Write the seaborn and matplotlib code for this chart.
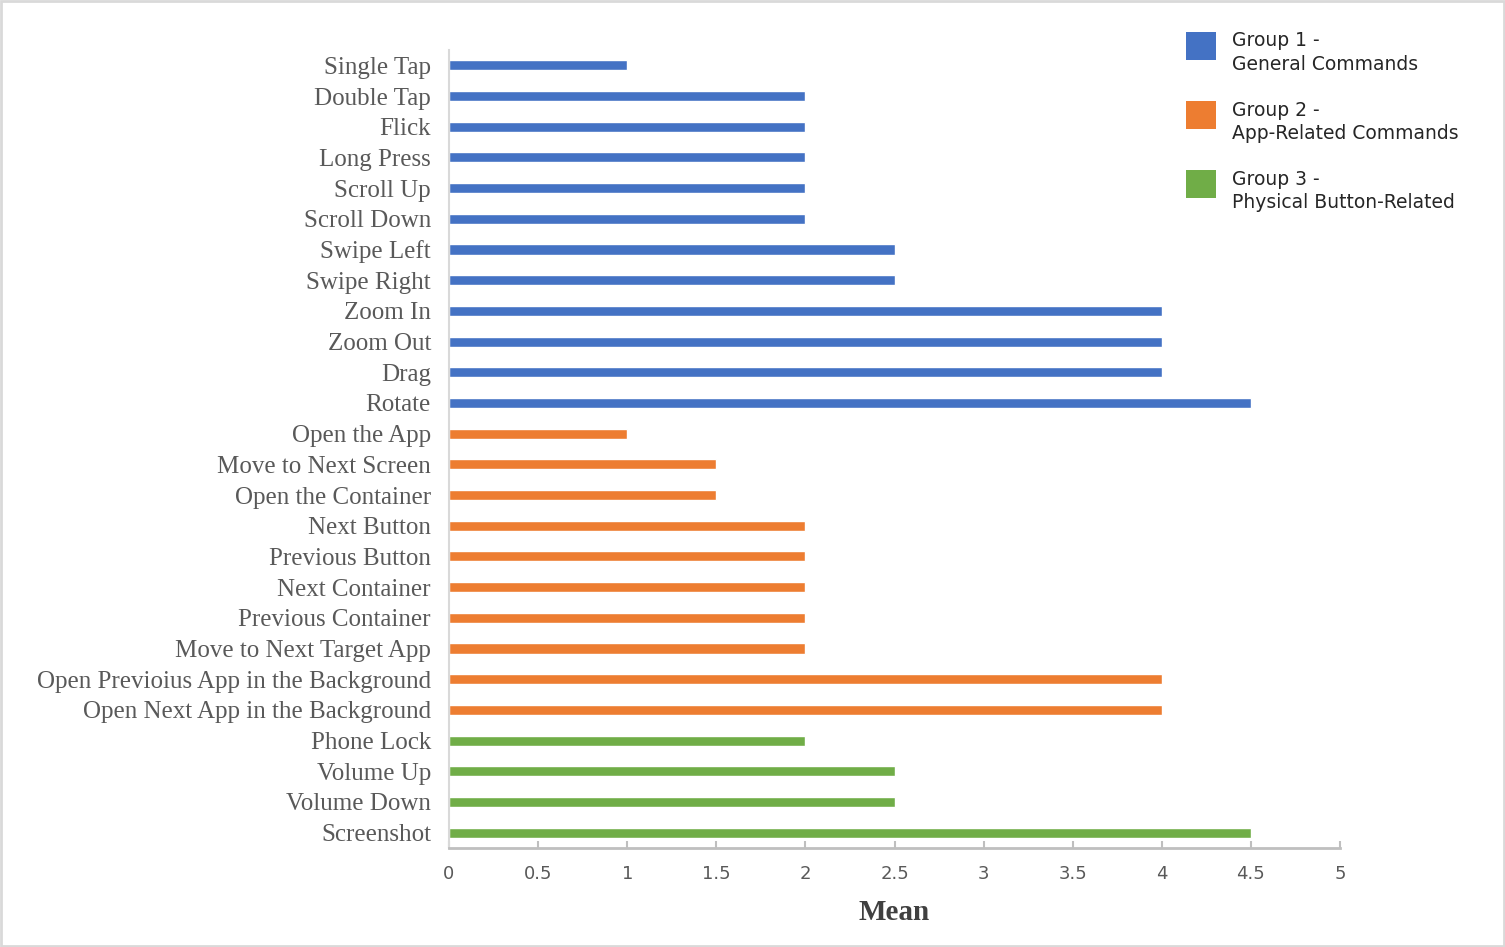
import matplotlib
matplotlib.use("Agg")
import matplotlib.pyplot as plt
import seaborn as sns
import pandas as pd
from matplotlib.patches import Patch, Rectangle
from matplotlib.legend_handler import HandlerPatch

categories = [
    "Single Tap", "Double Tap", "Flick", "Long Press", "Scroll Up", "Scroll Down",
    "Swipe Left", "Swipe Right", "Zoom In", "Zoom Out", "Drag", "Rotate",
    "Open the App", "Move to Next Screen", "Open the Container", "Next Button",
    "Previous Button", "Next Container", "Previous Container", "Move to Next Target App",
    "Open Previoius App in the Background", "Open Next App in the Background",
    "Phone Lock", "Volume Up", "Volume Down", "Screenshot",
]
means = [1, 2, 2, 2, 2, 2, 2.5, 2.5, 4, 4, 4, 4.5,
         1, 1.5, 1.5, 2, 2, 2, 2, 2, 4, 4,
         2, 2.5, 2.5, 4.5]
groups = (["Group 1 -\nGeneral Commands"] * 12
          + ["Group 2 -\nApp-Related Commands"] * 10
          + ["Group 3 -\nPhysical Button-Related"] * 4)
group_names = ["Group 1 -\nGeneral Commands", "Group 2 -\nApp-Related Commands",
               "Group 3 -\nPhysical Button-Related"]
colors = ["#4472C4", "#ED7D31", "#70AD47"]
x_ticks = [0, 0.5, 1, 1.5, 2, 2.5, 3, 3.5, 4, 4.5, 5]
x_labels = ["0", "0.5", "1", "1.5", "2", "2.5", "3", "3.5", "4", "4.5", "5"]

df = pd.DataFrame({"Command": categories, "Mean": means, "Group": groups})

sns.set_style("white")
fig = plt.figure(figsize=(15.05, 9.47), dpi=100)
ax = fig.add_axes([449 / 1505, 1 - 848 / 947, (1340 - 449) / 1505, (848 - 50) / 947])

sns.barplot(data=df, y="Command", x="Mean", hue="Group", hue_order=group_names,
            palette=colors, dodge=False, width=0.33, orient="h", ax=ax,
            legend=False, saturation=1)

ax.set_xlim(0, 5)
ax.set_ylim(len(categories) - 0.5, -0.5)
ax.set_xticks(x_ticks)
ax.set_xticklabels(x_labels, fontsize=13, color="#595959", family="DejaVu Sans")
ax.tick_params(axis="x", bottom=True, direction="in", length=5, width=1.5,
               color="#BFBFBF", pad=12)
ax.tick_params(axis="y", left=False, length=0, pad=13)
for lab in ax.get_yticklabels():
    lab.set_family("Liberation Serif")
    lab.set_fontsize(18)
    lab.set_color("#595959")
ax.set_ylabel("")
ax.set_xlabel("Mean", fontsize=21, fontweight="bold", family="Liberation Serif",
              color="#404040", labelpad=12)

for s in ["top", "right"]:
    ax.spines[s].set_visible(False)
ax.spines["left"].set_color("#D9D9D9")
ax.spines["left"].set_linewidth(1.5)
ax.spines["bottom"].set_color("#BFBFBF")
ax.spines["bottom"].set_linewidth(2)
ax.grid(False)


def raised_patch(legend, orig_handle, xdescent, ydescent, width, height, fontsize):
    return Rectangle((-xdescent, -ydescent + 0.45 * fontsize), width, height)


handles = [Patch(facecolor=c, edgecolor="none") for c in colors]
leg = fig.legend(handles, group_names, loc="upper left",
                 bbox_to_anchor=(1178 / 1505, 1 - 24 / 947),
                 frameon=False, prop={"family": "DejaVu Sans", "size": 13.5},
                 handlelength=1.65, handleheight=1.92, handletextpad=0.85,
                 labelspacing=1.45, borderaxespad=0,
                 handler_map={Patch: HandlerPatch(patch_func=raised_patch)})
for t in leg.get_texts():
    t.set_linespacing(1.27)

fig.patches.append(Rectangle((0.0007, 0.001), 0.9986, 0.998, transform=fig.transFigure,
                             fill=False, edgecolor="#D9D9D9", linewidth=2))

fig.savefig("out.png", dpi=100, facecolor="white")
